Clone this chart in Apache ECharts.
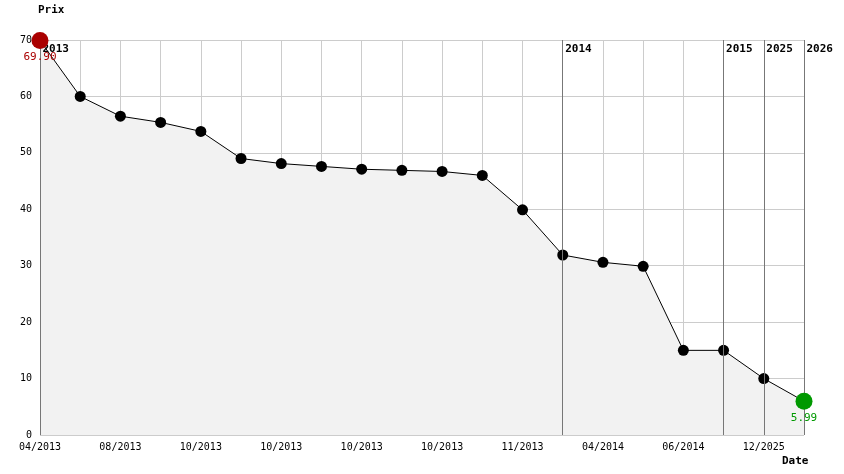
<!DOCTYPE html>
<html><head><meta charset="utf-8">
<script src="https://cdn.jsdelivr.net/npm/echarts@6/dist/echarts.min.js"></script>
<style>html,body{margin:0;padding:0;background:#fff}#c{width:844px;height:474px}</style>
</head><body><div id="c"></div>
<script>
const dates = ['04/2013','','08/2013','','10/2013','','10/2013','','10/2013','','10/2013','','11/2013','','04/2014','','06/2014','','12/2025',''];
const prices = [69.9,60,56.5,55.4,53.8,49,48.1,47.6,47.1,46.9,46.7,46,39.9,31.9,30.6,29.9,15,15,10,5.99];
const years = [['2013',0],['2014',13],['2015',17],['2025',18],['2026',19]];
const summary = ['Initial : 69.90','Mini : 5.99','Max : 69.90','Actuel : 5.99'];
const F = 'DejaVu Sans Mono, monospace';
const n = prices.length;
const chart = echarts.init(document.getElementById('c'));
chart.setOption({
  animation:false,
  grid:{left:40,right:40,top:40,bottom:39},
  xAxis:{type:'value',min:0,max:n-1,interval:1,
    axisLine:{show:false},axisTick:{show:false},
    splitLine:{show:true,lineStyle:{color:'#cccccc',width:1}},
    axisLabel:{fontFamily:F,fontSize:10,color:'#000',margin:7,formatter:v=>dates[v]||''}},
  yAxis:{type:'value',min:0,max:70,interval:10,
    axisLine:{show:false},axisTick:{show:false},
    splitLine:{lineStyle:{color:'#cccccc'}},
    axisLabel:{fontFamily:F,fontSize:10,color:'#000',margin:8}},
  graphic:[
    {type:'text',left:38,top:5,style:{text:'Prix',font:'bold 11px '+F,fill:'#000'}},
    {type:'text',left:782,top:456,style:{text:'Date',font:'bold 11px '+F,fill:'#000'}},
    {type:'text',left:50,top:379,style:{text:summary[0],font:'11px '+F,fill:'#000'}},
    {type:'text',left:50,top:393,style:{text:summary[1],font:'11px '+F,fill:'#009900'}},
    {type:'text',left:50,top:407,style:{text:summary[2],font:'11px '+F,fill:'#cc0000'}},
    {type:'text',left:50,top:421,style:{text:summary[3],font:'11px '+F,fill:'#000'}}
  ],
  series:[
    {type:'line',data:prices.map((p,i)=>({value:[i,p],symbolSize:(i===0||i===n-1)?0:11})),symbol:'circle',
     itemStyle:{color:'#000'},lineStyle:{color:'#000',width:1},
     areaStyle:{color:'#f2f2f2',opacity:1},z:3,emphasis:{disabled:true},
     markLine:{symbol:'none',silent:true,label:{show:false},
       lineStyle:{color:'#777',type:'solid',width:1,opacity:1},
       data:years.map(y=>({xAxis:y[1]}))}},
    {type:'scatter',symbolSize:1,silent:true,z:6,itemStyle:{opacity:0},
     data:years.map(y=>({value:[y[0]==='2013'?0:y[1],68.3],name:y[0]})),
     label:{show:true,position:'right',distance:2,formatter:p=>p.name,fontFamily:F,fontWeight:'bold',fontSize:11,color:'#000',opacity:1}},
    {type:'scatter',silent:true,z:7,symbolSize:17,emphasis:{disabled:true},
     data:[{value:[0,prices[0]],itemStyle:{color:'#aa0000',opacity:1},label:{color:'#aa0000'}},
           {value:[n-1,prices[n-1]],itemStyle:{color:'#009900',opacity:1},label:{color:'#009900'}}],
     label:{show:true,position:'bottom',distance:3,fontFamily:F,fontSize:11,formatter:p=>p.value[1].toFixed(2)}}
  ]
});
</script></body></html>
